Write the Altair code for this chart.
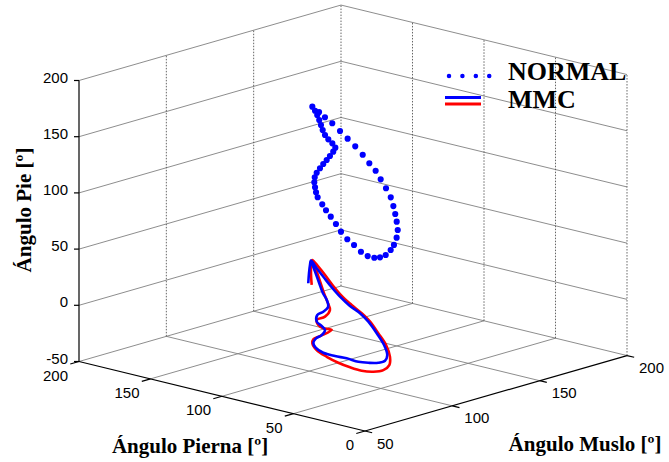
import altair as alt
import pandas as pd

# ---------------- data (Ángulo Muslo, Ángulo Pierna, Ángulo Pie) ----------------
normal_muslo = [100, 100, 101, 101, 102, 102, 103, 103, 104, 104,
                105, 105, 106, 106, 107, 107, 108, 108, 109, 109,
                110, 111, 112, 113, 114, 115, 116, 117, 118, 119, 120,
                120, 119, 118, 117, 116, 115, 114, 113, 112, 111, 110,
                109, 108, 107, 106, 105, 104, 103, 102, 101, 100]
normal_pierna = [97.9, 96.0, 95.7, 94.3, 94.3, 93.1, 92.7, 90.4, 88.8, 86.7,
                 89.4, 91.7, 95.2, 97.6, 101.1, 103.4, 106.0, 106.3, 107.0, 106.3,
                 106.4, 104.4, 103.0, 100.9, 98.5, 96.2, 93.0, 89.5, 85.9, 82.4, 79.0,
                 75.0, 69.8, 65.1, 61.6, 58.5, 56.5, 56.0, 55.8, 55.9, 56.5, 58.6,
                 61.1, 63.4, 66.6, 70.0, 74.0, 78.1, 82.2, 86.4, 90.3, 93.2]
normal_pie = [185.9, 182.9, 178.7, 174.7, 169.8, 165.7, 161.0, 157.8, 154.3, 151.1,
              146.3, 141.7, 136.6, 132.3, 127.0, 122.3, 117.0, 112.4, 107.3, 103.1,
              98.2, 92.1, 86.8, 81.3, 75.1, 68.5, 62.3, 57.8, 52.5, 49.3, 48.4,
              50.0, 54.1, 60.5, 66.5, 74.4, 82.3, 90.3, 97.6, 105.1, 113.1, 121.0,
              128.6, 136.0, 142.1, 149.1, 155.8, 161.8, 167.8, 173.8, 178.4, 182.6]

mmc_azul_muslo = [70, 70, 70, 70, 71, 72, 73, 74, 76, 78, 80, 82, 84, 86, 87, 88, 89, 90,
                  90, 89, 88, 87, 86, 85, 84, 83, 82, 81, 80, 79, 78, 76, 75, 73, 72, 71]
mmc_azul_pierna = [64.1, 63.6, 62.9, 62.2, 59.4, 56.0, 51.4, 46.8, 42.3, 37.7, 34.3, 30.9,
                   28.2, 28.4, 31.2, 37.1, 45.3, 53.5, 61.7, 68.6, 75.6, 79.7, 80.1, 77.0,
                   71.8, 68.3, 69.4, 71.6, 70.0, 64.6, 59.9, 58.5, 60.1, 60.1, 61.8, 62.9]
mmc_azul_pie = [52.7, 61.7, 69.3, 73.4, 67.0, 60.1, 51.7, 44.3, 36.6, 30.6, 23.2, 13.1,
                2.6, -7.3, -13.7, -17.8, -20.8, -22.9, -22.3, -22.0, -20.8, -17.1, -12.4, -7.1,
                -2.1, 4.0, 7.7, 11.3, 18.2, 23.2, 29.6, 36.9, 43.3, 52.6, 62.8, 70.9]

mmc_rojo_muslo = [70, 70, 70, 70, 71, 72, 73, 74, 76, 78, 80, 82, 84, 86, 87, 88, 89, 90,
                  90, 89, 88, 87, 86, 85, 84, 83, 82, 81, 80, 79, 78, 76, 75, 73, 72, 71]
mmc_rojo_pierna = [61.7, 62.2, 62.0, 61.3, 58.3, 54.8, 50.3, 45.6, 41.1, 36.5, 33.1, 29.8,
                   26.8, 26.5, 28.2, 33.6, 41.8, 51.2, 59.3, 66.3, 73.2, 79.0, 80.8, 78.9,
                   73.0, 63.6, 68.3, 70.5, 70.4, 63.4, 58.7, 58.1, 59.2, 59.1, 60.6, 61.8]
mmc_rojo_pie = [51.9, 62.2, 71.1, 74.3, 68.8, 62.0, 53.2, 45.3, 37.8, 30.9, 23.6, 13.4,
                3.0, -8.3, -16.6, -23.2, -27.6, -30.1, -29.6, -27.2, -23.6, -19.0, -13.1, -8.5,
                -3.3, 5.5, 6.0, 8.7, 13.6, 19.2, 27.0, 35.5, 43.1, 52.9, 63.2, 71.3]

ticks_muslo = [50, 100, 150, 200]
ticks_pierna = [0, 50, 100, 150, 200]
ticks_pie = [-50, 0, 50, 100, 150, 200]

titulo_muslo = "Ángulo Muslo [º]"
titulo_pierna = "Ángulo Pierna [º]"
titulo_pie = "Ángulo Pie [º]"
leyenda = ["NORMAL", "MMC"]

# ---------------- layout / 3D view ----------------
W, H = 669, 462
O_U, O_V = 365.0, 431.0          # screen position of the (Mmin, Pmin, Zmin) corner
EM = (1.7467, -0.503)            # screen step per unit of Muslo
EP = (-1.43, -0.3475)            # screen step per unit of Pierna
EZ = (0.0, -1.124)               # screen step per unit of Pie
Mmin, Mmax = min(ticks_muslo), max(ticks_muslo)
Pmin, Pmax = min(ticks_pierna), max(ticks_pierna)
Zmin, Zmax = min(ticks_pie), max(ticks_pie)


def pu(m, p):
    return f"{O_U} + {EM[0]}*(({m}) - {Mmin}) + {EP[0]}*(({p}) - {Pmin})"


def pv(m, p, z):
    return (f"{O_V} + {EM[1]}*(({m}) - {Mmin}) + {EP[1]}*(({p}) - {Pmin})"
            f" + {EZ[1]}*(({z}) - {Zmin})")


XS = alt.Scale(domain=[0, W], nice=False, zero=False)
YS = alt.Scale(domain=[0, H], reverse=True, nice=False, zero=False)


def X(f):
    return alt.X(f"{f}:Q", scale=XS, axis=None)


def Y(f):
    return alt.Y(f"{f}:Q", scale=YS, axis=None)


def seg_layer(rows, **mark_kw):
    df = pd.DataFrame(rows, columns=["M1", "P1", "Z1", "M2", "P2", "Z2"])
    return (alt.Chart(df)
            .transform_calculate(
                x=pu("datum.M1", "datum.P1"),
                y=pv("datum.M1", "datum.P1", "datum.Z1"),
                x2=pu("datum.M2", "datum.P2"),
                y2=pv("datum.M2", "datum.P2", "datum.Z2"))
            .mark_rule(**mark_kw)
            .encode(x=X("x"), y=Y("y"), x2=alt.X2("x2:Q"), y2=alt.Y2("y2:Q")))


# grid lines on floor and back walls
grid_h, grid_v = [], []
for m in ticks_muslo[1:]:
    grid_h.append([m, Pmin, Zmin, m, Pmax, Zmin])
for p in ticks_pierna[1:]:
    grid_h.append([Mmin, p, Zmin, Mmax, p, Zmin])
for z in ticks_pie[1:]:
    grid_h.append([Mmin, Pmax, z, Mmax, Pmax, z])
    grid_h.append([Mmax, Pmin, z, Mmax, Pmax, z])
for m in ticks_muslo[1:]:
    grid_v.append([m, Pmax, Zmin, m, Pmax, Zmax])
for p in ticks_pierna[:-1]:
    grid_v.append([Mmax, p, Zmin, Mmax, p, Zmax])

axes_rows = [[Mmin, Pmin, Zmin, Mmax, Pmin, Zmin],
             [Mmin, Pmin, Zmin, Mmin, Pmax, Zmin],
             [Mmin, Pmax, Zmin, Mmin, Pmax, Zmax]]
tick_rows = ([[m, Pmin, Zmin, m, Pmin - 5, Zmin] for m in ticks_muslo] +
             [[Mmin, p, Zmin, Mmin - 5, p, Zmin] for p in ticks_pierna])

layers = [
    seg_layer(grid_h, color="#808080", strokeWidth=0.9),
    seg_layer(grid_v, color="#555555", strokeWidth=0.9, strokeDash=[1.5, 1.5]),
    seg_layer(axes_rows, color="black", strokeWidth=1.2),
    seg_layer(tick_rows, color="black", strokeWidth=1.2),
]

# Pie ticks (screen-horizontal, pointing left)
pie_df = pd.DataFrame({"Z": ticks_pie, "t": [str(v) for v in ticks_pie]})
layers.append(
    alt.Chart(pie_df)
    .transform_calculate(x=pu(Mmin, Pmax), y=pv(Mmin, Pmax, "datum.Z"))
    .transform_calculate(x2="datum.x - 5")
    .mark_rule(color="black", strokeWidth=1.2)
    .encode(x=X("x"), y=Y("y"), x2=alt.X2("x2:Q"))
)
lab_font = dict(font="Liberation Sans", fontSize=15, color="black")
layers.append(
    alt.Chart(pie_df)
    .transform_calculate(x=pu(Mmin, Pmax), y=pv(Mmin, Pmax, "datum.Z"))
    .mark_text(align="right", baseline="middle", dx=-11, dy=-3, **lab_font)
    .encode(x=X("x"), y=Y("y"), text="t:N")
)
pierna_df = pd.DataFrame({"P": ticks_pierna, "t": [str(v) for v in ticks_pierna]})
layers.append(
    alt.Chart(pierna_df)
    .transform_calculate(x=pu(Mmin, "datum.P"), y=pv(Mmin, "datum.P", Zmin))
    .mark_text(align="right", baseline="middle", dx=-11, dy=14, **lab_font)
    .encode(x=X("x"), y=Y("y"), text="t:N")
)
muslo_df = pd.DataFrame({"M": ticks_muslo, "t": [str(v) for v in ticks_muslo]})
layers.append(
    alt.Chart(muslo_df)
    .transform_calculate(x=pu("datum.M", Pmin), y=pv("datum.M", Pmin, Zmin))
    .mark_text(align="left", baseline="middle", dx=12, dy=12.5, **lab_font)
    .encode(x=X("x"), y=Y("y"), text="t:N")
)

# ---------------- series ----------------
normal_df = pd.DataFrame({"M": normal_muslo, "P": normal_pierna, "Z": normal_pie})
layers.append(
    alt.Chart(normal_df)
    .transform_calculate(x=pu("datum.M", "datum.P"), y=pv("datum.M", "datum.P", "datum.Z"))
    .mark_circle(size=38, color="#0000ff", opacity=1)
    .encode(x=X("x"), y=Y("y"))
)


def line_layer(ms, ps, zs, color):
    df = pd.DataFrame({"M": ms, "P": ps, "Z": zs, "i": list(range(len(ms)))})
    return (alt.Chart(df)
            .transform_calculate(x=pu("datum.M", "datum.P"),
                                 y=pv("datum.M", "datum.P", "datum.Z"))
            .mark_line(color=color, strokeWidth=2.6, interpolate="catmull-rom")
            .encode(x=X("x"), y=Y("y"), order="i:Q"))


layers.append(line_layer(mmc_rojo_muslo, mmc_rojo_pierna, mmc_rojo_pie, "#ff0000"))
layers.append(line_layer(mmc_azul_muslo, mmc_azul_pierna, mmc_azul_pie, "#0000ff"))

# ---------------- axis titles ----------------
tfont = dict(font="Liberation Serif", fontWeight="bold", fontSize=21, color="black")
base = alt.Chart(pd.DataFrame({"a": [0]}))
layers.append(base.mark_text(align="center", baseline="middle", **tfont)
              .encode(x=alt.value(190), y=alt.value(447), text=alt.value(titulo_pierna)))
layers.append(base.mark_text(align="center", baseline="middle", **tfont)
              .encode(x=alt.value(585), y=alt.value(445), text=alt.value(titulo_muslo)))
layers.append(base.mark_text(align="center", baseline="middle", angle=270, **tfont)
              .encode(x=alt.value(25), y=alt.value(210), text=alt.value(titulo_pie)))

# ---------------- legend ----------------
layers.append(base.mark_rule(color="#0000ff", strokeWidth=4.5, strokeCap="round",
                             strokeDash=[0.01, 13.4])
              .encode(x=alt.value(449), x2=alt.value(490), y=alt.value(76)))
layers.append(base.mark_rule(color="#0000ff", strokeWidth=3.2)
              .encode(x=alt.value(445), x2=alt.value(481), y=alt.value(97.5)))
layers.append(base.mark_rule(color="#ff0000", strokeWidth=3.2)
              .encode(x=alt.value(445), x2=alt.value(481), y=alt.value(104)))
lfont = dict(font="Liberation Serif", fontWeight="bold", fontSize=26, color="black")
layers.append(base.mark_text(align="left", baseline="alphabetic", **lfont)
              .encode(x=alt.value(508), y=alt.value(80), text=alt.value(leyenda[0])))
layers.append(base.mark_text(align="left", baseline="alphabetic", **lfont)
              .encode(x=alt.value(508), y=alt.value(108), text=alt.value(leyenda[1])))

chart = (alt.layer(*layers)
         .properties(width=W, height=H, padding=0,
                     autosize=alt.AutoSizeParams(type="none"), background="white")
         .configure_view(stroke=None))

chart.save("out.html", embed_options={"renderer": "svg", "actions": False})
